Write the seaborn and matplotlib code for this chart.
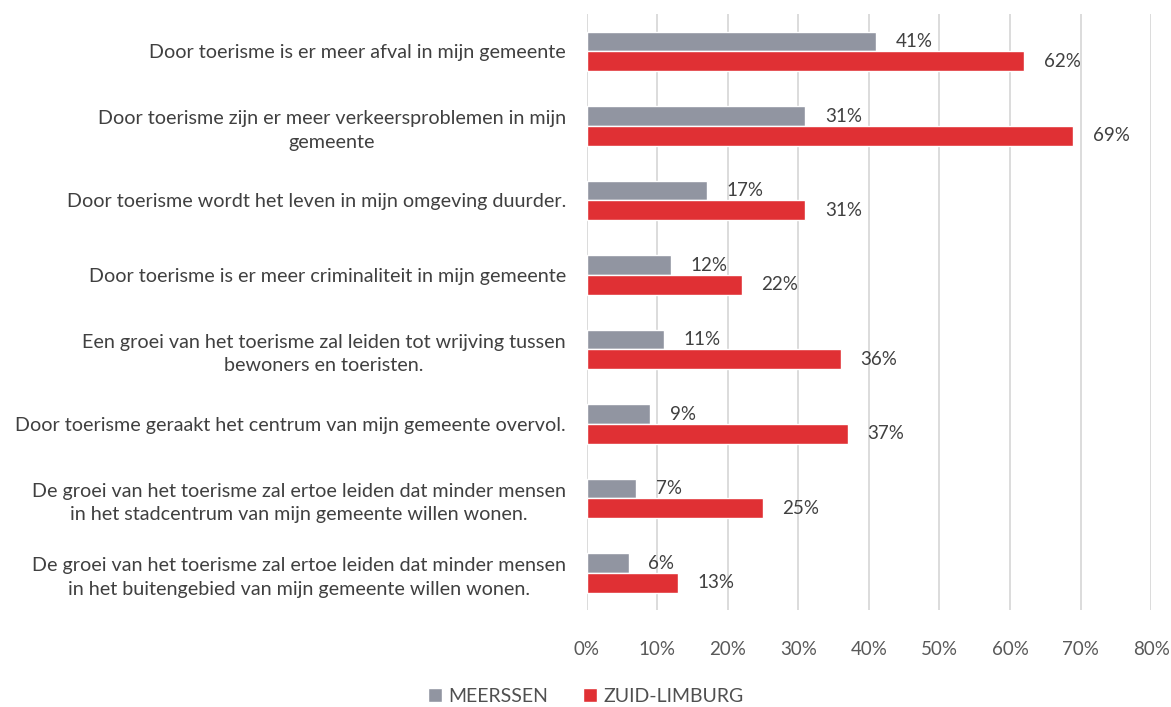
import pandas as pd
import numpy as np
import seaborn as sns
import matplotlib.pyplot as plt
from matplotlib.ticker import PercentFormatter

# stellingen (categorieen)
stellingen = [
    "Door toerisme is er meer afval in mijn gemeente",
    "Door toerisme zijn er meer verkeersproblemen in mijn\ngemeente",
    "Door toerisme wordt het leven in mijn omgeving duurder.",
    "Door toerisme is er meer criminaliteit in mijn gemeente",
    "Een groei van het toerisme zal leiden tot wrijving tussen\nbewoners en toeristen.",
    "Door toerisme geraakt het centrum van mijn gemeente overvol.",
    "De groei van het toerisme zal ertoe leiden dat minder mensen\nin het stadcentrum van mijn gemeente willen wonen.",
    "De groei van het toerisme zal ertoe leiden dat minder mensen\nin het buitengebied van mijn gemeente willen wonen.",
]
meerssen = [41, 31, 17, 12, 11, 9, 7, 6]
zuid_limburg = [62, 69, 31, 22, 36, 37, 25, 13]
reeksen = ["MEERSSEN", "ZUID-LIMBURG"]
kleuren = ["#9195A1", "#E03034"]

df = pd.DataFrame({
    "stelling": stellingen * 2,
    "reeks": [reeksen[0]] * len(stellingen) + [reeksen[1]] * len(stellingen),
    "waarde": meerssen + zuid_limburg,
})

sns.set_style("white")
plt.rcParams['font.family'] = ['Lato', 'DejaVu Sans']
tekstkleur = "#404040"

fig = plt.figure(figsize=(11.71, 7.07), dpi=100)
ax = fig.add_axes([0.501, 0.137, 0.482, 0.843])

sns.barplot(data=df, y="stelling", x="waarde", hue="reeks", orient="h",
            palette=kleuren, width=0.53, saturation=1, ax=ax, legend=True)

for cont in ax.containers:
    ax.bar_label(cont, labels=[f"{v:.0f}%" for v in cont.datavalues],
                 padding=14, fontsize=13.5, color=tekstkleur)

ax.set_xlim(0, 80)
ax.set_xticks(np.arange(0, 81, 10))
ax.xaxis.set_major_formatter(PercentFormatter(decimals=0))
ax.grid(axis="x", color="#D9D9D9", linewidth=1.3)
ax.set_axisbelow(True)
for s in ax.spines.values():
    s.set_visible(False)
ax.set_xlabel("")
ax.set_ylabel("")
ax.tick_params(axis="x", labelsize=13.5, colors="#595959", length=0, pad=22)
ax.tick_params(axis="y", labelsize=14.2, colors=tekstkleur, length=0, pad=15)
for lbl in ax.get_yticklabels():
    lbl.set_horizontalalignment("right")
    lbl.set_multialignment("center")
    lbl.set_linespacing(1.45)

ax.legend(loc="lower center", bbox_to_anchor=(0.5, 0.0), bbox_transform=fig.transFigure,
          ncol=2, frameon=False, fontsize=14, handlelength=0.75, handleheight=0.75,
          handletextpad=0.3, columnspacing=1.8, labelcolor="#505050",
          borderaxespad=0.0, borderpad=0.1)

fig.savefig("out.png", dpi=100)
